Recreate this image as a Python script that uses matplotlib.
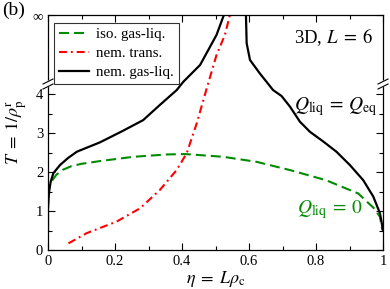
import numpy as np
import matplotlib
matplotlib.use("Agg")
import matplotlib.pyplot as plt
from matplotlib.ticker import FixedLocator

plt.rcParams['font.family'] = ['Liberation Serif', 'DejaVu Serif']
plt.rcParams['mathtext.fontset'] = 'stix'

INF = 1e9

# iso. gas-liq. (green dashed)
eta_iso = [0.0, 0.002, 0.006, 0.013, 0.025, 0.045, 0.07, 0.10, 0.155, 0.255,
           0.355, 0.41, 0.523, 0.623, 0.722, 0.83, 0.872, 0.926, 0.973, 0.991,
           0.998]
T_iso = [1.41, 1.52, 1.65, 1.79, 1.93, 2.06, 2.15, 2.21, 2.28, 2.39,
         2.45, 2.46, 2.39, 2.26, 2.05, 1.79, 1.64, 1.45, 1.07, 0.85,
         0.51]

# nem. trans. (red dash-dot)
eta_nem = [0.061, 0.115, 0.205, 0.275, 0.334, 0.384, 0.414, 0.444, 0.474,
           0.503, 0.528, 0.543]
T_nem = [0.17, 0.43, 0.73, 1.07, 1.54, 2.05, 2.48, 3.25, 4.15,
         7.34, 14.7, INF]

# nem. gas-liq. (black), two branches going to infinity
eta_gl_left = [0.0, 0.0, 0.002, 0.004, 0.008, 0.016, 0.036, 0.06, 0.086,
               0.155, 0.22, 0.284, 0.334, 0.384, 0.404, 0.454, 0.503, 0.525]
T_gl_left = [0.51, 1.05, 1.35, 1.54, 1.75, 1.97, 2.18, 2.36, 2.52,
             2.76, 3.04, 3.33, 3.72, 4.10, 4.40, 5.88, 14.7, INF]
eta_gl_right = [0.591, 0.591, 0.593, 0.603, 0.632, 0.672, 0.697, 0.722, 0.752,
                0.782, 0.822, 0.861, 0.901, 0.941, 0.971, 0.991, 1.0]
T_gl_right = [INF, 185, 10.4, 6.53, 5.04, 4.10, 3.95, 3.68, 3.29,
              3.03, 2.78, 2.52, 2.18, 1.79, 1.37, 0.94, 0.51]

# broken y axis: linear up to TB, linear in 1/T above it (infinity at top)
TB = 4.256
H = 1.77


def forward(t):
    t = np.asarray(t, dtype=float)
    tt = np.where(t > TB, t, TB)
    up = TB + H * (1 - TB / tt)
    return np.where(t <= TB, t, up)


def inverse(y):
    y = np.asarray(y, dtype=float)
    frac = np.clip((y - TB) / H, None, 1 - 1e-12)
    up = TB / (1 - frac)
    return np.where(y <= TB, y, up)


fig = plt.figure(figsize=(3.9, 2.89), dpi=100)
ax = fig.add_axes([48 / 390, 1 - 250 / 289, 335 / 390, 235 / 289])
ax.set_yscale('function', functions=(forward, inverse))

green = '#008b00'
ax.plot(eta_iso, T_iso, color=green, lw=1.5, dashes=(4.8, 2.4),
        label='iso. gas-liq.')
ax.plot(eta_nem, T_nem, color='red', lw=1.5, dashes=(3.8, 1.9, 0.9, 1.9),
        label='nem. trans.')
ax.plot(eta_gl_left, T_gl_left, color='black', lw=1.6, label='nem. gas-liq.')
ax.plot(eta_gl_right, T_gl_right, color='black', lw=1.6)

ax.set_xlim(0, 1)
ax.set_ylim(0, INF)

ax.set_xticks([0, 0.2, 0.4, 0.6, 0.8, 1.0],
              labels=['0', '0.2', '0.4', '0.6', '0.8', '1'])
ax.xaxis.set_minor_locator(FixedLocator([0.1, 0.3, 0.5, 0.7, 0.9]))
ax.set_yticks([0, 1, 2, 3, 4, INF], labels=['0', '1', '2', '3', '4', '∞'])
ax.yaxis.set_minor_locator(FixedLocator([0.5, 1.5, 2.5, 3.5]))
ax.tick_params(which='both', direction='in', top=True, right=True,
               labelsize=10.5, width=0.8)
ax.tick_params(which='major', length=5)
ax.tick_params(which='minor', length=3)
for s in ax.spines.values():
    s.set_linewidth(0.9)

ax.set_xlabel(r'$\eta\;=\;L\rho_{\mathrm{c}}$', fontsize=13, labelpad=1)
ax.set_ylabel(r'$T\;=\;1/\rho_{\mathrm{p}}^{\mathrm{r}}$', fontsize=13,
              labelpad=3)

# break marks on both spines
yb = forward(TB) / forward(INF)
dx = 5 / 335
dy = 2.5 / 235
for x0 in (0, 1):
    ax.fill([x0 - dx, x0 + dx, x0 + dx, x0 - dx],
            [yb - 2 * dy, yb + 0 * dy, yb + 2 * dy, yb],
            transform=ax.transAxes, color='white', clip_on=False, zorder=5)
    for off in (-dy, dy):
        ax.plot([x0 - dx, x0 + dx], [yb + off - dy, yb + off + dy],
                transform=ax.transAxes, color='black', lw=0.8,
                clip_on=False, zorder=6)

leg = ax.legend(loc='upper left', bbox_to_anchor=(54 / 390, 1 - 22.5 / 289),
                bbox_transform=fig.transFigure, fontsize=10.8, frameon=True,
                fancybox=False, handlelength=2.0, handletextpad=0.45,
                labelspacing=0.35, borderpad=0.35, borderaxespad=0)
leg.get_frame().set_edgecolor('black')
leg.get_frame().set_linewidth(0.8)

ax.text(0.97, 0.906, r'3D, $L\;=\;6$', transform=ax.transAxes, ha='right',
        va='center', fontsize=13.5)
ax.text(0.985, 0.596, r'$Q_{\mathrm{liq}}\:=\:Q_{\mathrm{eq}}$',
        transform=ax.transAxes, ha='right', va='baseline', fontsize=14)
ax.text(0.94, 0.157, r'$Q_{\mathrm{liq}}\:=\:0$', transform=ax.transAxes,
        ha='right', va='baseline', fontsize=14, color=green)

fig.text(0.005, 0.995, '(b)', ha='left', va='top', fontsize=14)

fig.savefig('out.png', dpi=100)
